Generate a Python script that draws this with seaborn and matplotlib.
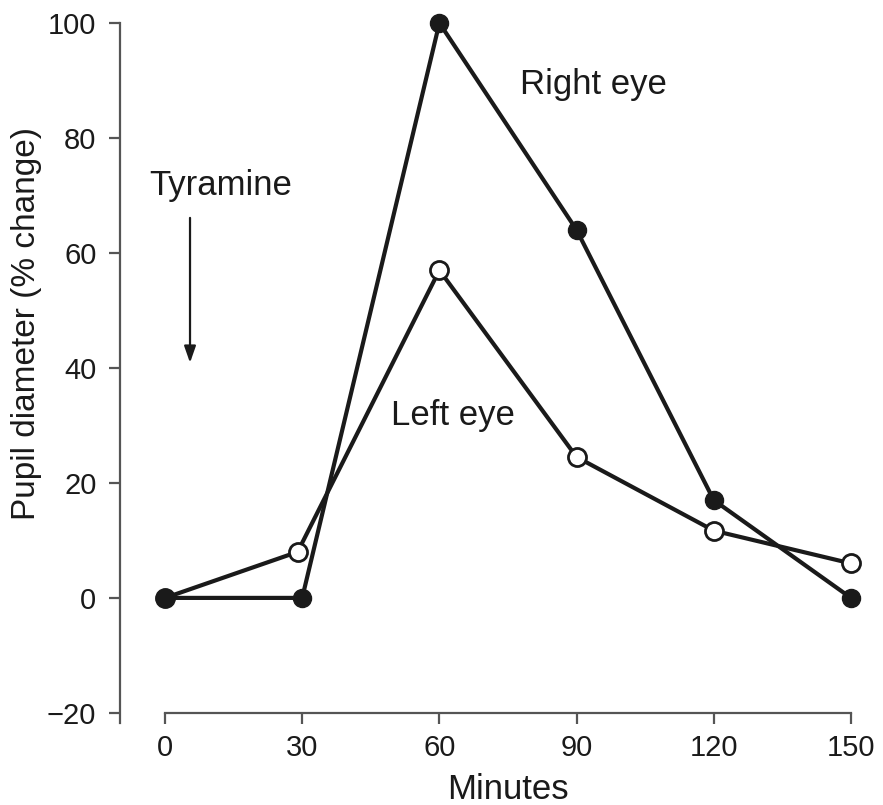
import matplotlib
matplotlib.use("Agg")
import matplotlib.pyplot as plt
import seaborn as sns
import pandas as pd

# Data
minutes_right = [0, 30, 60, 90, 120, 150]
right_eye = [0, 0, 100, 64, 17, 0]
minutes_left = [0, 29, 60, 90, 120, 150]
left_eye = [0, 8, 57, 24.5, 11.7, 6]
x_ticks = [0, 30, 60, 90, 120, 150]
y_ticks = [-20, 0, 20, 40, 60, 80, 100]

sns.set_style("ticks")
plt.rcParams['font.family'] = ['Liberation Sans', 'DejaVu Sans']

fig = plt.figure(figsize=(8.83, 8.05), dpi=100)
ax = fig.add_axes([120/883, (805-723)/805, 740/883, 700/805])

line_col = '#1a1a1a'
spine_col = '#555555'

sns.lineplot(x=minutes_left, y=left_eye, ax=ax, sort=False, color=line_col,
             linewidth=3, marker='o', markersize=13, markerfacecolor='white',
             markeredgecolor=line_col, markeredgewidth=2, clip_on=False, zorder=3)
sns.lineplot(x=minutes_right, y=right_eye, ax=ax, sort=False, color=line_col,
             linewidth=3, marker='o', markersize=13, markerfacecolor=line_col,
             markeredgecolor=line_col, markeredgewidth=1, clip_on=False, zorder=4)

ax.set_xlim(-9.84, 151.97)
ax.set_ylim(-21.76, 100)
ax.set_xticks(x_ticks)
ax.set_yticks(y_ticks)
ax.set_xticklabels([str(v) for v in x_ticks])
ax.set_yticklabels(['\u221220' if v < 0 else str(v) for v in y_ticks])

for s in ['top', 'right']:
    ax.spines[s].set_visible(False)
ax.spines['bottom'].set_position(('data', -20))
ax.spines['bottom'].set_bounds(0, 150)
for s in ['left', 'bottom']:
    ax.spines[s].set_color(spine_col)
    ax.spines[s].set_linewidth(1.6)

ax.tick_params(axis='both', direction='out', length=8, width=1.6, color=spine_col,
               labelsize=21, labelcolor='#1a1a1a')
ax.tick_params(axis='y', pad=9)
ax.tick_params(axis='x', pad=7)

ax.set_xlabel('Minutes', fontsize=25, color='#1a1a1a')
ax.set_ylabel('Pupil diameter (% change)', fontsize=24, color='#1a1a1a')
ax.xaxis.set_label_coords(0.524, -0.071)
ax.yaxis.set_label_coords(-0.105, 0.57)

ax.text(12.1, 70.1, 'Tyramine', fontsize=25, ha='center', va='baseline', color='#1a1a1a')
ax.text(93.7, 87.6, 'Right eye', fontsize=25, ha='center', va='baseline', color='#1a1a1a')
ax.text(62.9, 30.1, 'Left eye', fontsize=25, ha='center', va='baseline', color='#1a1a1a')
ax.annotate('', xy=(5.47, 40.9), xytext=(5.47, 66.1),
            arrowprops=dict(arrowstyle='-|>,head_length=1.0,head_width=0.35',
                            color='#1a1a1a', lw=1.6, shrinkA=0, shrinkB=0))

fig.savefig('out.png', dpi=100)
